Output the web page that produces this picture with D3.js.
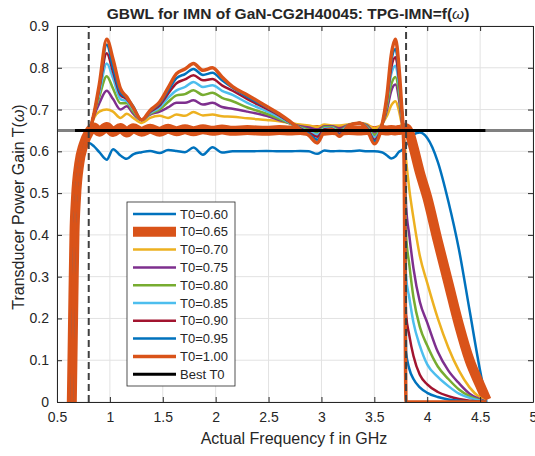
<!DOCTYPE html>
<html lang="en">
<head>
<meta charset="UTF-8">
<title>GBWL for IMN</title>
<script src="https://d3js.org/d3.v7.min.js"></script>
<style>
    html, body {
        margin: 0;
        padding: 0;
        background: #fff;
    }
    svg text {
        font-family: Arial, "Liberation Sans", Helvetica, sans-serif;
        fill: #262626;
    }
</style>
</head>
<body>
<div id="chart"></div>
<script>
    // frequency grid in GHz, shared by every curve
    const freq = [0.64, 0.655, 0.665, 0.68, 0.71, 0.75, 0.80,
        0.85, 0.90, 0.97, 1.03, 1.10, 1.16, 1.22, 1.30,
        1.38, 1.47, 1.55, 1.63, 1.71, 1.79, 1.88, 1.97, 2.06, 2.16,
        2.30, 2.48, 2.60, 2.70, 2.80, 2.88, 2.96, 3.03, 3.10, 3.17,
        3.26, 3.36, 3.43, 3.50, 3.57, 3.62, 3.66, 3.70, 3.73, 3.755, 3.78,
        3.80, 3.83, 3.87, 3.93, 4.00, 4.10, 4.20, 4.30, 4.40, 4.50, 4.56];

    // transducer power gain for each T0
    const t060 = [0, 0.25, 0.40, 0.49, 0.565, 0.61, 0.62,
        0.612, 0.598, 0.58, 0.605, 0.59, 0.582, 0.593, 0.598,
        0.601, 0.596, 0.603, 0.601, 0.598, 0.609, 0.592, 0.61, 0.597, 0.60,
        0.60, 0.601, 0.60, 0.60, 0.601, 0.60, 0.594, 0.602, 0.60, 0.601,
        0.60, 0.602, 0.60, 0.60, 0.598, 0.59, 0.583, 0.588, 0.598, 0.602, 0.608,
        0.615, 0.628, 0.64, 0.645, 0.632, 0.575, 0.48, 0.365, 0.22, 0.075, 0];
    const t065 = [0, 0.25, 0.40, 0.49, 0.57, 0.615, 0.645,
        0.657, 0.647, 0.658, 0.646, 0.656, 0.645, 0.655, 0.647,
        0.654, 0.647, 0.654, 0.648, 0.653, 0.648, 0.653, 0.649, 0.652, 0.649,
        0.651, 0.649, 0.651, 0.65, 0.651, 0.649, 0.651, 0.649, 0.651, 0.65,
        0.651, 0.65, 0.651, 0.648, 0.651, 0.65, 0.651, 0.65, 0.651, 0.652, 0.655,
        0.655, 0.645, 0.61, 0.55, 0.49, 0.385, 0.285, 0.185, 0.10, 0.04, 0.005];
    const t070 = [0, 0.25, 0.40, 0.49, 0.565, 0.605, 0.64,
        0.68, 0.695, 0.70, 0.695, 0.68, 0.69, 0.68, 0.668,
        0.68, 0.685, 0.68, 0.688, 0.685, 0.694, 0.686, 0.688, 0.684, 0.683,
        0.679, 0.675, 0.672, 0.668, 0.664, 0.662, 0.658, 0.664, 0.662, 0.662,
        0.665, 0.668, 0.665, 0.655, 0.665, 0.685, 0.71, 0.72, 0.70, 0.67, 0.635,
        0.58, 0.51, 0.44, 0.35, 0.285, 0.20, 0.13, 0.075, 0.035, 0.01, 0];
    const t075 = [0, 0.25, 0.40, 0.49, 0.565, 0.605, 0.64,
        0.685, 0.715, 0.745, 0.725, 0.70, 0.708, 0.69, 0.675,
        0.688, 0.695, 0.705, 0.716, 0.716, 0.722, 0.712, 0.716, 0.706, 0.702,
        0.695, 0.685, 0.675, 0.667, 0.66, 0.657, 0.652, 0.66, 0.66, 0.655,
        0.664, 0.668, 0.662, 0.646, 0.662, 0.70, 0.745, 0.76, 0.73, 0.68, 0.62,
        0.47, 0.40, 0.32, 0.24, 0.19, 0.12, 0.075, 0.045, 0.02, 0.006, 0];
    const t080 = [0, 0.25, 0.40, 0.49, 0.565, 0.605, 0.64,
        0.69, 0.73, 0.78, 0.75, 0.715, 0.715, 0.695, 0.675,
        0.69, 0.70, 0.718, 0.734, 0.737, 0.746, 0.735, 0.74, 0.728, 0.72,
        0.705, 0.69, 0.678, 0.667, 0.658, 0.652, 0.645, 0.658, 0.658, 0.65,
        0.663, 0.668, 0.66, 0.64, 0.66, 0.71, 0.76, 0.778, 0.745, 0.69, 0.62,
        0.40, 0.33, 0.25, 0.18, 0.135, 0.085, 0.055, 0.03, 0.014, 0.004, 0];
    const t085 = [0, 0.25, 0.40, 0.49, 0.565, 0.605, 0.64,
        0.69, 0.74, 0.81, 0.775, 0.725, 0.72, 0.70, 0.675,
        0.692, 0.705, 0.728, 0.746, 0.754, 0.766, 0.754, 0.758, 0.745, 0.735,
        0.716, 0.696, 0.682, 0.668, 0.656, 0.648, 0.64, 0.655, 0.656, 0.646,
        0.663, 0.668, 0.658, 0.634, 0.66, 0.72, 0.785, 0.805, 0.765, 0.70, 0.62,
        0.30, 0.25, 0.19, 0.135, 0.09, 0.06, 0.038, 0.02, 0.01, 0.003, 0];
    const t090 = [0, 0.25, 0.40, 0.49, 0.565, 0.605, 0.64,
        0.69, 0.75, 0.835, 0.79, 0.735, 0.725, 0.705, 0.675,
        0.694, 0.71, 0.738, 0.763, 0.772, 0.782, 0.77, 0.773, 0.758, 0.745,
        0.725, 0.702, 0.686, 0.67, 0.655, 0.645, 0.635, 0.653, 0.654, 0.642,
        0.662, 0.668, 0.656, 0.628, 0.66, 0.725, 0.80, 0.825, 0.78, 0.71, 0.62,
        0.21, 0.16, 0.11, 0.065, 0.042, 0.024, 0.014, 0.007, 0.003, 0.001, 0];
    const t095 = [0, 0.25, 0.40, 0.49, 0.565, 0.605, 0.64,
        0.69, 0.755, 0.855, 0.80, 0.74, 0.728, 0.708, 0.675,
        0.696, 0.714, 0.745, 0.775, 0.785, 0.797, 0.783, 0.788, 0.77, 0.752,
        0.73, 0.706, 0.688, 0.671, 0.654, 0.642, 0.628, 0.65, 0.653, 0.639,
        0.662, 0.668, 0.655, 0.624, 0.66, 0.73, 0.815, 0.845, 0.795, 0.715, 0.62,
        0.12, 0.08, 0.055, 0.035, 0.022, 0.012, 0.006, 0.003, 0.001, 0, 0];
    const t100 = [0, 0.25, 0.40, 0.49, 0.565, 0.605, 0.64,
        0.69, 0.76, 0.868, 0.82, 0.75, 0.73, 0.705, 0.675,
        0.698, 0.718, 0.752, 0.786, 0.797, 0.81, 0.794, 0.80, 0.778, 0.755,
        0.735, 0.708, 0.69, 0.672, 0.652, 0.638, 0.62, 0.648, 0.652, 0.636,
        0.662, 0.668, 0.653, 0.618, 0.66, 0.735, 0.83, 0.868, 0.81, 0.72, 0.60,
        0, 0, 0, 0, 0, 0, 0, 0, 0, 0, 0];

    const seriesValues = [t060, t065, t070, t075, t080, t085, t090, t095, t100];
    const seriesLabels = ['T0=0.60', 'T0=0.65', 'T0=0.70', 'T0=0.75', 'T0=0.80',
        'T0=0.85', 'T0=0.90', 'T0=0.95', 'T0=1.00'];

    // best T0 line and band edges (GHz)
    const bestT0 = 0.65;
    const bestSpan = [0.67, 4.55];
    const bandEdges = [0.8, 3.8];

    const xTicks = [0.5, 1, 1.5, 2, 2.5, 3, 3.5, 4, 4.5, 5];
    const yTicks = [0, 0.1, 0.2, 0.3, 0.4, 0.5, 0.6, 0.7, 0.8, 0.9];

    // matlab default colour order, widths
    const colors = ['#0072BD', '#D95319', '#EDB120', '#7E2F8E', '#77AC30',
        '#4DBEEE', '#A2142F', '#0072BD', '#D95319'];
    const widths = [2.5, 10, 2.5, 2.5, 2.5, 2.5, 2.5, 2.5, 3.5];

    const width = 535;
    const height = 456;
    const margin = {top: 26, right: 2, bottom: 54, left: 57};

    const x = d3.scaleLinear().domain([0.5, 5]).range([margin.left, width - margin.right]);
    const y = d3.scaleLinear().domain([0, 0.9]).range([height - margin.bottom, margin.top]);

    const svg = d3.select('#chart').append('svg')
        .attr('width', width)
        .attr('height', height);

    svg.append('defs').append('clipPath').attr('id', 'plot')
        .append('rect')
        .attr('x', x(0.5)).attr('y', y(0.9))
        .attr('width', x(5) - x(0.5)).attr('height', y(0) - y(0.9));

    // grid
    const grid = svg.append('g').attr('stroke', '#e2e2e2').attr('stroke-width', 1);
    grid.selectAll('.gx').data(xTicks).enter().append('line')
        .attr('x1', d => x(d)).attr('x2', d => x(d))
        .attr('y1', y(0)).attr('y2', y(0.9));
    grid.selectAll('.gy').data(yTicks).enter().append('line')
        .attr('x1', x(0.5)).attr('x2', x(5))
        .attr('y1', d => y(d)).attr('y2', d => y(d));

    // curves
    const line = d3.line()
        .x((d, i) => x(freq[i]))
        .y(d => y(d))
        .curve(d3.curveMonotoneX);

    const plot = svg.append('g').attr('clip-path', 'url(#plot)');
    plot.selectAll('path.curve').data(seriesValues).enter().append('path')
        .attr('class', 'curve')
        .attr('d', line)
        .attr('fill', 'none')
        .attr('stroke', (d, i) => colors[i])
        .attr('stroke-width', (d, i) => widths[i])
        .attr('stroke-linejoin', 'round');

    // band edge markers
    plot.selectAll('line.edge').data(bandEdges).enter().append('line')
        .attr('class', 'edge')
        .attr('x1', d => x(d)).attr('x2', d => x(d))
        .attr('y1', y(0)).attr('y2', y(0.9))
        .attr('stroke', '#404040')
        .attr('stroke-width', 2)
        .attr('stroke-dasharray', '7,4');

    // best T0
    plot.append('line')
        .attr('x1', x(0.5)).attr('x2', x(5))
        .attr('y1', y(bestT0)).attr('y2', y(bestT0))
        .attr('stroke', '#808080').attr('stroke-width', 3);
    plot.append('line')
        .attr('x1', x(bestSpan[0])).attr('x2', x(bestSpan[1]))
        .attr('y1', y(bestT0)).attr('y2', y(bestT0))
        .attr('stroke', '#000').attr('stroke-width', 3);

    // axes, ticks inside on all four sides
    const styleAxis = g => {
        g.select('.domain').attr('stroke', '#262626');
        g.selectAll('.tick line').attr('stroke', '#262626');
        g.selectAll('text').attr('font-size', 14).attr('fill', '#262626')
            .style('font-family', 'Arial, "Liberation Sans", sans-serif');
    };
    svg.append('g').attr('transform', `translate(0, ${y(0)})`)
        .call(d3.axisBottom(x).tickValues(xTicks).tickFormat(d => d).tickSize(-5).tickSizeOuter(0).tickPadding(10))
        .call(styleAxis);
    svg.append('g').attr('transform', `translate(0, ${y(0.9)})`)
        .call(d3.axisTop(x).tickValues(xTicks).tickFormat('').tickSize(-5).tickSizeOuter(0))
        .call(styleAxis);
    svg.append('g').attr('transform', `translate(${x(0.5)}, 0)`)
        .call(d3.axisLeft(y).tickValues(yTicks).tickFormat(d => d).tickSize(-5).tickSizeOuter(0).tickPadding(8))
        .call(styleAxis);
    svg.append('g').attr('transform', `translate(${x(5)}, 0)`)
        .call(d3.axisRight(y).tickValues(yTicks).tickFormat('').tickSize(-5).tickSizeOuter(0))
        .call(styleAxis);

    // title
    const title = svg.append('text')
        .attr('x', 288).attr('y', 19)
        .attr('text-anchor', 'middle')
        .attr('font-size', 15.5)
        .attr('font-weight', 'bold');
    title.append('tspan').text('GBWL for IMN of GaN-CG2H40045: TPG-IMN=f(');
    title.append('tspan').attr('font-style', 'italic').attr('font-weight', 'normal').text('ω');
    title.append('tspan').text(')');

    // axis labels
    svg.append('text')
        .attr('x', 294).attr('y', 444)
        .attr('text-anchor', 'middle')
        .attr('font-size', 16)
        .text('Actual Frequency f in GHz');
    const yl = svg.append('text')
        .attr('transform', `translate(24, 207) rotate(-90)`)
        .attr('text-anchor', 'middle')
        .attr('font-size', 16);
    yl.append('tspan').text('Transducer Power Gain T(');
    yl.append('tspan').attr('font-style', 'italic').text('ω');
    yl.append('tspan').text(')');

    // legend
    const legendItems = seriesLabels.map((s, i) => ({label: s, color: colors[i], w: widths[i]}));
    legendItems.push({label: 'Best T0', color: '#000', w: 3});
    const legend = svg.append('g').attr('transform', 'translate(127, 202)');
    legend.append('rect')
        .attr('width', 108).attr('height', 184)
        .attr('fill', '#fff').attr('stroke', '#262626').attr('stroke-width', 0.8);
    const item = legend.selectAll('g.item').data(legendItems).enter().append('g')
        .attr('class', 'item')
        .attr('transform', (d, i) => `translate(0, ${12 + i * 17.8})`);
    item.append('line')
        .attr('x1', 6).attr('x2', 49)
        .attr('stroke', d => d.color)
        .attr('stroke-width', d => d.w);
    item.append('text')
        .attr('x', 53).attr('dy', '0.35em')
        .attr('font-size', 13)
        .text(d => d.label);
</script>
</body>
</html>
